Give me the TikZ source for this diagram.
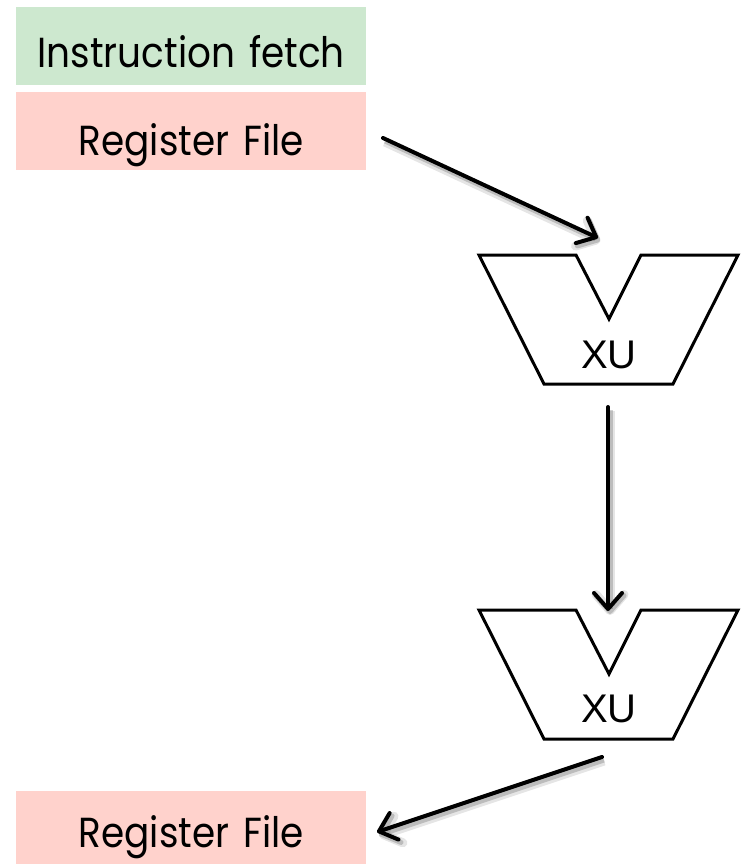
\documentclass[tikz,border=0pt]{standalone}
\usepackage{fontspec}
\usetikzlibrary{arrows.meta}
\newfontfamily\stagefont[FakeStretch=0.89]{Poppins}
\newfontfamily\unitfont{Liberation Sans}
\definecolor{fetchgreen}{RGB}{205,232,207}
\definecolor{regpink}{RGB}{255,210,204}
\tikzset{
  stagebox/.style={rectangle, inner sep=0pt, text width=350pt, align=center,
    anchor=north west, font=\stagefont\fontsize{42}{46}\selectfont},
  unitshape/.style={draw=black, line width=3pt, line join=miter, fill=white},
  unitlabel/.style={anchor=base, inner sep=0pt, font=\unitfont\fontsize{40}{44}\selectfont},
  flow/.style={line width=4pt, line cap=round,
    -{Straight Barb[length=16pt, width=28pt, line cap=round, line join=round]},
    preaction={draw=black, opacity=0.10, line width=9pt,
      transform canvas={shift={(2pt,-4pt)}}},
    preaction={draw=black, opacity=0.18, line width=5pt,
      transform canvas={shift={(2pt,-3pt)}}}},
}
\begin{document}
\begin{tikzpicture}[x=1pt, y=-1pt]
  \useasboundingbox (0,0) rectangle (746,864);

  % pipeline stages on the left
  \node[stagebox, fill=fetchgreen, text height=60pt, text depth=18pt]
    (fetch) at (16,7) {Instruction fetch};
  \node[stagebox, fill=regpink, text height=63pt, text depth=15pt]
    (rfread) at (16,92) {Register File};
  \node[stagebox, fill=regpink, text height=56pt, text depth=22pt]
    (rfwrite) at (16,791) {Register File};

  % first execution unit
  \draw[unitshape] (479,255) -- (576,255) -- (609,319) -- (641,255) -- (738,255)
    -- (673,384) -- (544,384) -- cycle;
  \node[unitlabel] (xu1) at (609,368) {XU};

  % second execution unit
  \draw[unitshape] (479,610) -- (576,610) -- (609,674) -- (641,610) -- (738,610)
    -- (673,739) -- (544,739) -- cycle;
  \node[unitlabel] (xu2) at (609,722) {XU};

  % connector end points
  \coordinate (a1s) at (383,138);
  \coordinate (a1e) at (598,238);
  \coordinate (a2s) at (608,407);
  \coordinate (a2e) at (608,611);
  \coordinate (a3s) at (602,757);
  \coordinate (a3e) at (377,832);

  \draw[flow] (a1s) -- (a1e);
  \draw[flow] (a2s) -- (a2e);
  \draw[flow] (a3s) -- (a3e);
\end{tikzpicture}
\end{document}
